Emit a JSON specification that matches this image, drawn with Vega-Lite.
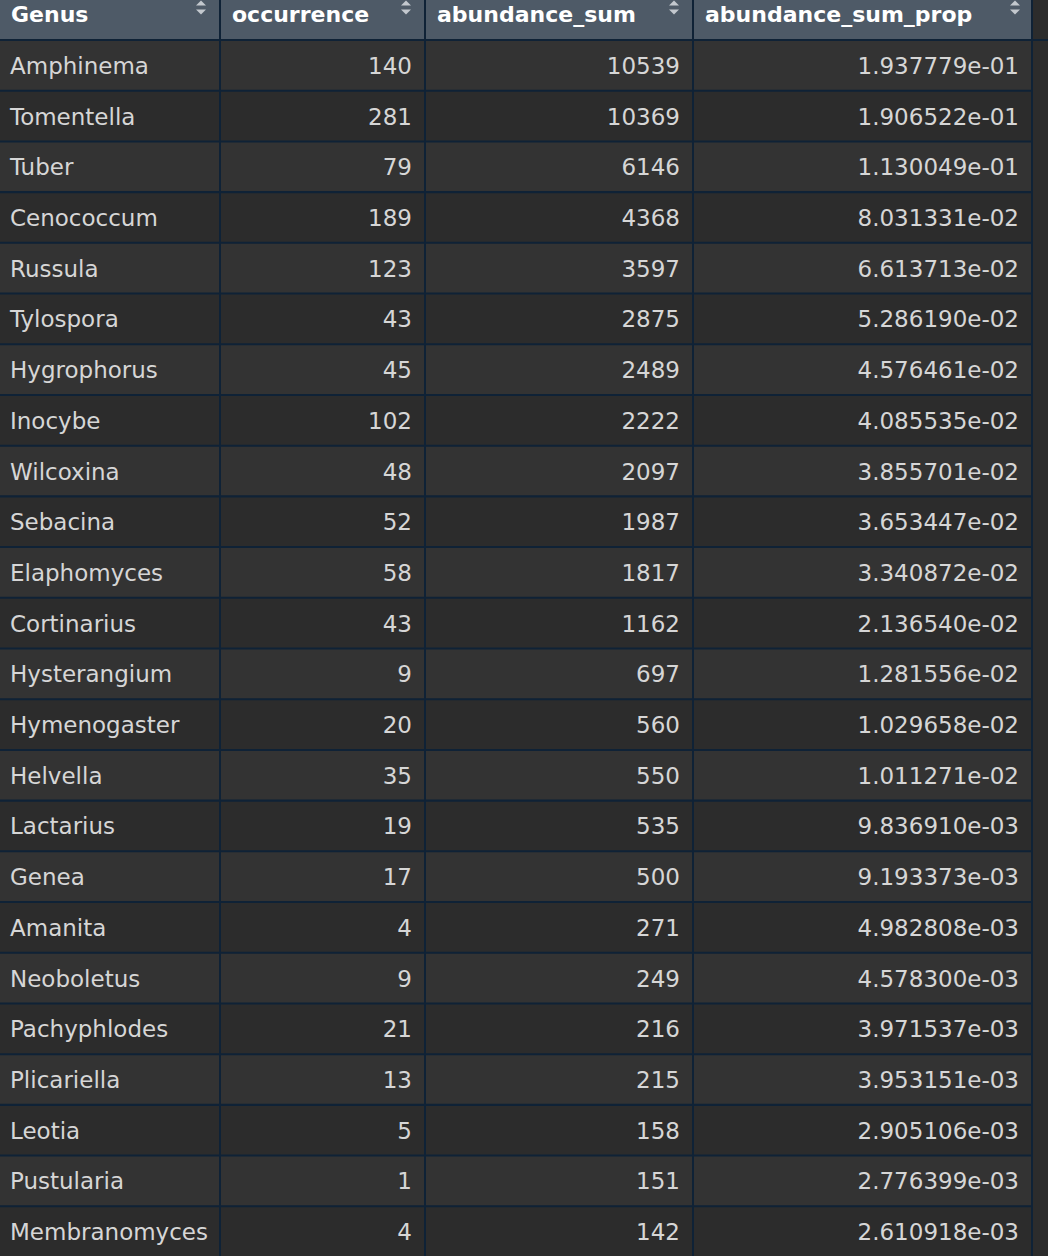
{
  "$schema": "https://vega.github.io/schema/vega-lite/v6.json",
  "background": "#0f2236",
  "padding": 0,
  "config": {
    "view": {"stroke": null},
    "concat": {"spacing": 2},
    "text": {"font": "DejaVu Sans"}
  },
  "datasets": {
    "genera": [
      {"Genus": "Amphinema", "occurrence": 140, "abundance_sum": 10539, "abundance_sum_prop": 0.1937779},
      {"Genus": "Tomentella", "occurrence": 281, "abundance_sum": 10369, "abundance_sum_prop": 0.1906522},
      {"Genus": "Tuber", "occurrence": 79, "abundance_sum": 6146, "abundance_sum_prop": 0.1130049},
      {"Genus": "Cenococcum", "occurrence": 189, "abundance_sum": 4368, "abundance_sum_prop": 0.08031331},
      {"Genus": "Russula", "occurrence": 123, "abundance_sum": 3597, "abundance_sum_prop": 0.06613713},
      {"Genus": "Tylospora", "occurrence": 43, "abundance_sum": 2875, "abundance_sum_prop": 0.0528619},
      {"Genus": "Hygrophorus", "occurrence": 45, "abundance_sum": 2489, "abundance_sum_prop": 0.04576461},
      {"Genus": "Inocybe", "occurrence": 102, "abundance_sum": 2222, "abundance_sum_prop": 0.04085535},
      {"Genus": "Wilcoxina", "occurrence": 48, "abundance_sum": 2097, "abundance_sum_prop": 0.03855701},
      {"Genus": "Sebacina", "occurrence": 52, "abundance_sum": 1987, "abundance_sum_prop": 0.03653447},
      {"Genus": "Elaphomyces", "occurrence": 58, "abundance_sum": 1817, "abundance_sum_prop": 0.03340872},
      {"Genus": "Cortinarius", "occurrence": 43, "abundance_sum": 1162, "abundance_sum_prop": 0.0213654},
      {"Genus": "Hysterangium", "occurrence": 9, "abundance_sum": 697, "abundance_sum_prop": 0.01281556},
      {"Genus": "Hymenogaster", "occurrence": 20, "abundance_sum": 560, "abundance_sum_prop": 0.01029658},
      {"Genus": "Helvella", "occurrence": 35, "abundance_sum": 550, "abundance_sum_prop": 0.01011271},
      {"Genus": "Lactarius", "occurrence": 19, "abundance_sum": 535, "abundance_sum_prop": 0.00983691},
      {"Genus": "Genea", "occurrence": 17, "abundance_sum": 500, "abundance_sum_prop": 0.009193373},
      {"Genus": "Amanita", "occurrence": 4, "abundance_sum": 271, "abundance_sum_prop": 0.004982808},
      {"Genus": "Neoboletus", "occurrence": 9, "abundance_sum": 249, "abundance_sum_prop": 0.0045783},
      {"Genus": "Pachyphlodes", "occurrence": 21, "abundance_sum": 216, "abundance_sum_prop": 0.003971537},
      {"Genus": "Plicariella", "occurrence": 13, "abundance_sum": 215, "abundance_sum_prop": 0.003953151},
      {"Genus": "Leotia", "occurrence": 5, "abundance_sum": 158, "abundance_sum_prop": 0.002905106},
      {"Genus": "Pustularia", "occurrence": 1, "abundance_sum": 151, "abundance_sum_prop": 0.002776399},
      {"Genus": "Membranomyces", "occurrence": 4, "abundance_sum": 142, "abundance_sum_prop": 0.002610918}
    ]
  },
  "vconcat": [
    {
      "spacing": 2,
      "hconcat": [
        {
          "width": 219, "height": 39,
          "view": {"fill": "#4e5a67"},
          "data": {"values": [{"label": "Genus"}]},
          "layer": [
            {"mark": {"type": "text", "align": "left", "baseline": "middle", "dx": 11, "fontSize": 22, "fontWeight": "bold", "fill": "#ffffff"},
             "encoding": {"x": {"value": 0}, "y": {"value": 15}, "text": {"field": "label"}}},
            {"mark": {"type": "point", "shape": "M-1,0.5L1,0.5L0,-0.5Z", "filled": true, "size": 100, "opacity": 1, "fill": "#c3c8ce", "strokeWidth": 0},
             "encoding": {"x": {"value": 201}, "y": {"value": 3}}},
            {"mark": {"type": "point", "shape": "M-1,-0.5L1,-0.5L0,0.5Z", "filled": true, "size": 100, "opacity": 1, "fill": "#c3c8ce", "strokeWidth": 0},
             "encoding": {"x": {"value": 201}, "y": {"value": 12}}}
          ]
        },
        {
          "width": 203, "height": 39,
          "view": {"fill": "#4e5a67"},
          "data": {"values": [{"label": "occurrence"}]},
          "layer": [
            {"mark": {"type": "text", "align": "left", "baseline": "middle", "dx": 11, "fontSize": 22, "fontWeight": "bold", "fill": "#ffffff"},
             "encoding": {"x": {"value": 0}, "y": {"value": 15}, "text": {"field": "label"}}},
            {"mark": {"type": "point", "shape": "M-1,0.5L1,0.5L0,-0.5Z", "filled": true, "size": 100, "opacity": 1, "fill": "#c3c8ce", "strokeWidth": 0},
             "encoding": {"x": {"value": 185}, "y": {"value": 3}}},
            {"mark": {"type": "point", "shape": "M-1,-0.5L1,-0.5L0,0.5Z", "filled": true, "size": 100, "opacity": 1, "fill": "#c3c8ce", "strokeWidth": 0},
             "encoding": {"x": {"value": 185}, "y": {"value": 12}}}
          ]
        },
        {
          "width": 266, "height": 39,
          "view": {"fill": "#4e5a67"},
          "data": {"values": [{"label": "abundance_sum"}]},
          "layer": [
            {"mark": {"type": "text", "align": "left", "baseline": "middle", "dx": 11, "fontSize": 22, "fontWeight": "bold", "fill": "#ffffff"},
             "encoding": {"x": {"value": 0}, "y": {"value": 15}, "text": {"field": "label"}}},
            {"mark": {"type": "point", "shape": "M-1,0.5L1,0.5L0,-0.5Z", "filled": true, "size": 100, "opacity": 1, "fill": "#c3c8ce", "strokeWidth": 0},
             "encoding": {"x": {"value": 248}, "y": {"value": 3}}},
            {"mark": {"type": "point", "shape": "M-1,-0.5L1,-0.5L0,0.5Z", "filled": true, "size": 100, "opacity": 1, "fill": "#c3c8ce", "strokeWidth": 0},
             "encoding": {"x": {"value": 248}, "y": {"value": 12}}}
          ]
        },
        {
          "width": 337, "height": 39,
          "view": {"fill": "#4e5a67"},
          "data": {"values": [{"label": "abundance_sum_prop"}]},
          "layer": [
            {"mark": {"type": "text", "align": "left", "baseline": "middle", "dx": 11, "fontSize": 22, "fontWeight": "bold", "fill": "#ffffff"},
             "encoding": {"x": {"value": 0}, "y": {"value": 15}, "text": {"field": "label"}}},
            {"mark": {"type": "point", "shape": "M-1,0.5L1,0.5L0,-0.5Z", "filled": true, "size": 100, "opacity": 1, "fill": "#c3c8ce", "strokeWidth": 0},
             "encoding": {"x": {"value": 321}, "y": {"value": 3}}},
            {"mark": {"type": "point", "shape": "M-1,-0.5L1,-0.5L0,0.5Z", "filled": true, "size": 100, "opacity": 1, "fill": "#c3c8ce", "strokeWidth": 0},
             "encoding": {"x": {"value": 321}, "y": {"value": 12}}}
          ]
        },
        {
          "width": 15, "height": 39,
          "view": {"fill": "#2c2c2c"},
          "data": {"values": [{"label": ""}]},
          "mark": {"type": "text"},
          "encoding": {"text": {"field": "label"}}
        }
      ]
    },
    {
      "spacing": 2,
      "hconcat": [
        {
          "width": 219, "height": 1215,
          "data": {"name": "genera"},
          "transform": [{"window": [{"op": "row_number", "as": "rn"}]}],
          "encoding": {"y": {"field": "Genus", "type": "nominal", "sort": null, "axis": null, "scale": {"paddingInner": 0.04, "paddingOuter": 0}}},
          "layer": [
            {"mark": {"type": "rect"},
             "encoding": {"x": {"value": 0}, "x2": {"value": "width"},
                          "fill": {"condition": {"test": "datum.rn % 2 === 1", "value": "#333333"}, "value": "#2c2c2c"}}},
            {"mark": {"type": "text", "align": "left", "baseline": "middle", "dx": 10, "dy": 1.5, "fontSize": 23, "fill": "#d6d6d6"},
             "encoding": {"x": {"value": 0}, "text": {"field": "Genus"}}}
          ]
        },
        {
          "width": 203, "height": 1215,
          "data": {"name": "genera"},
          "transform": [{"window": [{"op": "row_number", "as": "rn"}]}],
          "encoding": {"y": {"field": "Genus", "type": "nominal", "sort": null, "axis": null, "scale": {"paddingInner": 0.04, "paddingOuter": 0}}},
          "layer": [
            {"mark": {"type": "rect"},
             "encoding": {"x": {"value": 0}, "x2": {"value": "width"},
                          "fill": {"condition": {"test": "datum.rn % 2 === 1", "value": "#333333"}, "value": "#2c2c2c"}}},
            {"mark": {"type": "text", "align": "right", "baseline": "middle", "dx": -12, "dy": 1.5, "fontSize": 23, "fill": "#d6d6d6"},
             "encoding": {"x": {"value": "width"}, "text": {"field": "occurrence", "type": "quantitative", "format": "d"}}}
          ]
        },
        {
          "width": 266, "height": 1215,
          "data": {"name": "genera"},
          "transform": [{"window": [{"op": "row_number", "as": "rn"}]}],
          "encoding": {"y": {"field": "Genus", "type": "nominal", "sort": null, "axis": null, "scale": {"paddingInner": 0.04, "paddingOuter": 0}}},
          "layer": [
            {"mark": {"type": "rect"},
             "encoding": {"x": {"value": 0}, "x2": {"value": "width"},
                          "fill": {"condition": {"test": "datum.rn % 2 === 1", "value": "#333333"}, "value": "#2c2c2c"}}},
            {"mark": {"type": "text", "align": "right", "baseline": "middle", "dx": -12, "dy": 1.5, "fontSize": 23, "fill": "#d6d6d6"},
             "encoding": {"x": {"value": "width"}, "text": {"field": "abundance_sum", "type": "quantitative", "format": "d"}}}
          ]
        },
        {
          "width": 337, "height": 1215,
          "data": {"name": "genera"},
          "transform": [
            {"window": [{"op": "row_number", "as": "rn"}]},
            {"calculate": "replace(format(datum.abundance_sum_prop, '.6e'), 'e-', 'e-0')", "as": "prop_label"}
          ],
          "encoding": {"y": {"field": "Genus", "type": "nominal", "sort": null, "axis": null, "scale": {"paddingInner": 0.04, "paddingOuter": 0}}},
          "layer": [
            {"mark": {"type": "rect"},
             "encoding": {"x": {"value": 0}, "x2": {"value": "width"},
                          "fill": {"condition": {"test": "datum.rn % 2 === 1", "value": "#333333"}, "value": "#2c2c2c"}}},
            {"mark": {"type": "text", "align": "right", "baseline": "middle", "dx": -12, "dy": 1.5, "fontSize": 23, "fill": "#d6d6d6"},
             "encoding": {"x": {"value": "width"}, "text": {"field": "prop_label"}}}
          ]
        },
        {
          "width": 15, "height": 1215,
          "view": {"fill": "#2c2c2c"},
          "data": {"values": [{"label": ""}]},
          "mark": {"type": "text"},
          "encoding": {"text": {"field": "label"}}
        }
      ]
    }
  ]
}
